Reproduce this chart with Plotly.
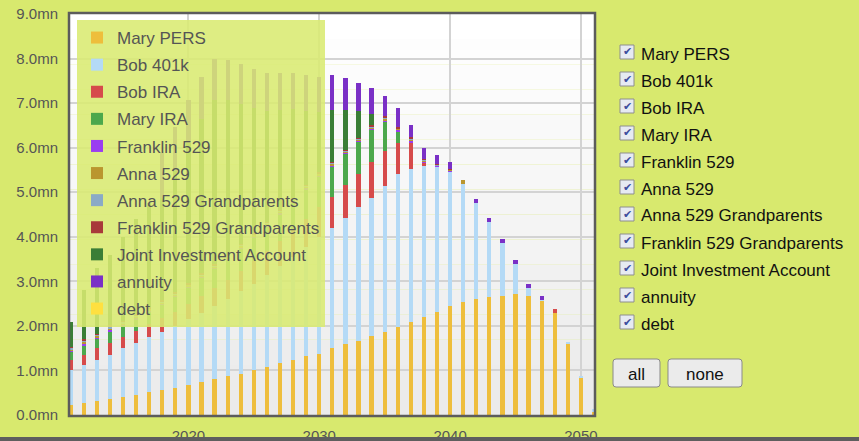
import plotly.graph_objects as go

years = list(range(2011, 2052))

mary_pers = [0.22,0.27,0.31,0.36,0.41,0.45,0.51,0.56,0.61,0.67,
             0.73,0.80,0.87,0.93,1.01,1.07,1.16,1.23,1.32,1.38,
             1.50,1.59,1.67,1.77,1.87,1.98,2.09,2.19,2.31,2.44,
             2.53,2.60,2.65,2.68,2.72,2.67,2.56,2.28,1.59,0.82,0.07]
bob_401k = [0.78,0.85,0.92,0.99,1.09,1.16,1.23,1.31,1.39,1.48,
            1.57,1.65,1.73,1.85,1.94,2.08,2.19,2.32,2.46,2.62,
            2.69,2.84,2.99,3.11,3.28,3.44,3.43,3.39,3.26,3.02,
            2.65,2.16,1.68,1.18,0.66,0.17,0.02,0.00,0.05,0.05,0.07]
bob_ira = [0.23,0.22,0.27,0.26,0.24,0.27,0.30,0.30,0.32,0.35,
           0.38,0.40,0.43,0.46,0.50,0.53,0.56,0.60,0.63,0.67,
           0.70,0.73,0.76,0.80,0.78,0.69,0.60,0.08,0,0,
           0,0,0,0,0,0,0,0.09,0,0,0]
mary_ira = [0.19,0.23,0.22,0.26,0.26,0.27,0.28,0.30,0.33,0.36,
            0.40,0.43,0.46,0.50,0.53,0.56,0.60,0.63,0.66,0.68,
            0.69,0.72,0.72,0.73,0.65,0.26,0,0,0,0,
            0,0,0,0,0,0,0,0,0,0,0]
franklin_529 = [0.03,0.04,0.03,0.04,0.03,0.03,0.03,0.03,0.03,0.03,
                0.03,0.03,0.03,0.03,0.03,0.03,0.03,0.03,0.03,0.03,
                0.03,0.02,0.02,0.03,0.04,0.03,0.03,0.03,0.02,0.02,
                0,0,0,0,0,0,0,0,0,0,0]
anna_529 = [0.03,0.04,0.03,0.04,0.03,0.03,0.03,0.03,0.03,0.03,
            0.03,0.03,0.03,0.03,0.03,0.03,0.03,0.03,0.03,0.03,
            0.03,0.02,0.02,0.02,0.03,0.02,0.03,0.02,0.02,0.02,
            0.09,0,0,0,0,0,0,0,0,0,0]
anna_529_gp = [0.03,0.03,0.02,0.04,0.03,0.03,0.02,0.02,0.02,0.02,
               0.02,0.02,0.02,0.02,0.02,0.02,0.02,0.02,0.02,0.02,
               0.02,0.01,0.02,0.02,0.03,0.02,0.03,0.02,0.01,0.02,
               0,0,0,0,0,0,0,0,0,0,0]
franklin_529_gp = [0.02,0.02,0.02,0.03,0.02,0.02,0.02,0.02,0.02,0.02,
                   0.02,0.02,0.02,0.02,0.02,0.02,0.02,0.02,0.02,0.02,
                   0.02,0.01,0.02,0.02,0.02,0.02,0.02,0.02,0.01,0.01,
                   0,0,0,0,0,0,0,0,0,0,0]
joint_investment = [0.56,1.10,1.48,1.58,1.89,2.14,2.33,2.30,2.73,3.14,
                    3.46,3.70,3.47,3.15,2.82,2.49,2.23,1.98,1.65,1.34,
                    1.16,0.91,0.60,0.26,0,0,0,0,0,0,
                    0,0,0,0,0,0,0,0,0,0,0]
annuity = [0,0,0,0,0,0,0,1.00,0.98,0.96,
           0.94,0.92,0.90,0.88,0.86,0.84,0.83,0.81,0.80,0.79,
           0.78,0.72,0.63,0.57,0.47,0.42,0.29,0.25,0.20,0.14,
           0,0.08,0.10,0.09,0.09,0.09,0.09,0,0,0,0]
debt = [0]*41

series_names = ["Mary PERS", "Bob 401k", "Bob IRA", "Mary IRA", "Franklin 529",
                "Anna 529", "Anna 529 Grandparents", "Franklin 529 Grandparents",
                "Joint Investment Account", "annuity", "debt"]
series_values = [mary_pers, bob_401k, bob_ira, mary_ira, franklin_529, anna_529,
                 anna_529_gp, franklin_529_gp, joint_investment, annuity, debt]
series_colors = ["#EEBE3C", "#B4DAF6", "#D64B4B", "#4CA84C", "#9A3DF0", "#BA962E",
                 "#8AAAC6", "#A83A3A", "#3A7E36", "#7A30C6", "#FFE040"]

y_tick_vals = list(range(0, 10))
y_tick_text = ["%.1fmn" % v for v in y_tick_vals]
x_tick_vals = [2020, 2030, 2040, 2050]

W, H = 859, 441
L, R, T, B = 70, 594, 14, 415

def px(x):
    return (x - L) / (R - L)

def py(y):
    return (B - y) / (B - T)

fig = go.Figure()
for name, vals, col in zip(series_names, series_values, series_colors):
    fig.add_trace(go.Bar(x=years, y=vals, name=name, marker_color=col,
                         marker_line_width=0, width=0.33, legendgroup=name))

shapes = []
# plot background gradient
nb = 16
for i in range(nb):
    c = int(255 - 20 * i / (nb - 1))
    shapes.append(dict(type="rect", xref="paper", yref="paper", x0=0, x1=1,
                       y0=1 - (i + 1) / nb, y1=1 - i / nb, layer="below",
                       line_width=0, fillcolor="rgb(%d,%d,%d)" % (c, c, c)))
# frame (drawn just outside the plotting area)
shapes.append(dict(type="rect", xref="paper", yref="paper",
                   x0=px(69), x1=px(595), y0=py(416), y1=py(13),
                   line=dict(color="#5C5C5C", width=2.5), layer="above"))
# bottom dark strip
shapes.append(dict(type="rect", xref="paper", yref="paper", x0=px(0), x1=px(W),
                   y0=py(442), y1=py(437), line_width=0, fillcolor="#5E5E5E", layer="above"))

annotations = []
# right-side checkbox list
for i, name in enumerate(series_names):
    yc = 52 + 27 * i
    shapes.append(dict(type="rect", xref="paper", yref="paper",
                       x0=px(620), x1=px(634), y0=py(yc + 7), y1=py(yc - 7),
                       line=dict(color="#8E8E8E", width=1), fillcolor="#E6EAF2"))
    annotations.append(dict(x=px(627), y=py(yc), xref="paper", yref="paper",
                            text="✔", showarrow=False, xanchor="center", yanchor="middle",
                            font=dict(size=11, color="#3B4E9E", family="DejaVu Sans")))
    annotations.append(dict(x=px(639), y=py(yc + 2), xref="paper", yref="paper",
                            text=name, showarrow=False, xanchor="left", yanchor="middle",
                            font=dict(size=17, color="#111111", family="Liberation Sans, Arial")))

# buttons
def rrect(x0, y0, x1, y1, r=3):
    X0, X1 = px(x0), px(x1)
    Y0, Y1 = py(y1), py(y0)
    rx = r / (R - L)
    ry = r / (B - T)
    return ("M %f,%f L %f,%f Q %f,%f %f,%f L %f,%f Q %f,%f %f,%f L %f,%f Q %f,%f %f,%f "
            "L %f,%f Q %f,%f %f,%f Z" % (
                X0 + rx, Y0, X1 - rx, Y0, X1, Y0, X1, Y0 + ry, X1, Y1 - ry, X1, Y1, X1 - rx, Y1,
                X0 + rx, Y1, X0, Y1, X0, Y1 - ry, X0, Y0 + ry, X0, Y0, X0 + rx, Y0))

for (x0, x1, label) in [(613, 660, "all"), (668, 742, "none")]:
    shapes.append(dict(type="path", xref="paper", yref="paper", path=rrect(x0, 359, x1, 387),
                       line=dict(color="#8A8A8A", width=1), fillcolor="#EBEBEB"))
    annotations.append(dict(x=px((x0 + x1) / 2), y=py(374), xref="paper", yref="paper",
                            text=label, showarrow=False, xanchor="center", yanchor="middle",
                            font=dict(size=17, color="#111111", family="Liberation Sans, Arial")))

fig.update_layout(
    width=W, height=H,
    margin=dict(l=L, r=W - R, t=T, b=H - B, autoexpand=False),
    paper_bgcolor="#D8E96E",
    plot_bgcolor="rgba(0,0,0,0)",
    barmode="stack",
    bargap=0,
    font=dict(family="Liberation Sans, Arial", size=15, color="#555555"),
    showlegend=True,
    legend=dict(x=px(77), y=py(20), xanchor="left", yanchor="top",
                bgcolor="rgba(218,234,114,0.88)", borderwidth=0,
                font=dict(size=17, color="#555555"),
                traceorder="grouped", tracegroupgap=2),
    xaxis=dict(range=[2010.95, 2051.0], tickvals=x_tick_vals, showgrid=True,
               gridcolor="#D3D3D3", gridwidth=1.5, zeroline=False, ticks="outside",
               ticklen=7, tickcolor="rgba(0,0,0,0)", tickfont=dict(size=15, color="#555555"),
               showline=False, fixedrange=True, automargin=False),
    yaxis=dict(range=[0, 9], tickvals=y_tick_vals, ticktext=y_tick_text, showgrid=True,
               gridcolor="#D3D3D3", gridwidth=1.5, zeroline=False, ticks="outside",
               ticklen=8, tickcolor="rgba(0,0,0,0)", tickfont=dict(size=15, color="#555555"),
               showline=False, fixedrange=True, automargin=False),
    shapes=shapes,
    annotations=annotations,
)

fig.write_html("out.html")
